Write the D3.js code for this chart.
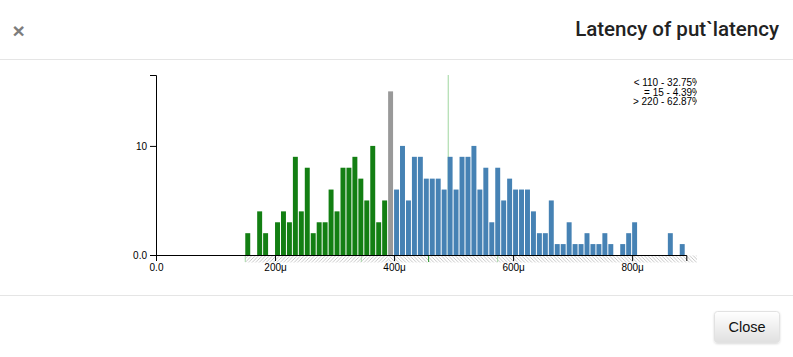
<!DOCTYPE html>
<html>
<head>
<meta charset="utf-8">
<script src="https://cdn.jsdelivr.net/npm/d3@7"></script>
<style>
  html, body { margin: 0; padding: 0; background: #fff; }
  svg { display: block; font-family: "Liberation Sans", Arial, Helvetica, sans-serif; }
</style>
</head>
<body>
<svg id="root" width="793" height="357"></svg>
<script>
// ---- data ----
const title = "Latency of put`latency";
const binWidth = 10;
const lessBins   = [150,160,170,180,190,200,210,220,230,240,250,260,270,280,290,300,310,320,330,340,350,360,370,380];
const lessCounts = [  2,  0,  4,  2,  0,  3,  4,  3,  9,  4,  8,  2,  3,  3,  6,  4,  8,  8,  9,  7,  5, 10,  3,  5];
const equalBins   = [390];
const equalCounts = [15];
const greaterBins   = [400,410,420,430,440,450,460,470,480,490,500,510,520,530,540,550,560,570,580,590,600,610,620,630,640,650,660,670,680,690,700,710,720,730,740,750,760,770,780,790,800,860,880];
const greaterCounts = [  6, 10,  5,  9,  9,  7,  7,  7,  6,  9,  6,  9,  9, 10,  6,  8,  3,  8,  5,  7,  6,  6,  6,  4,  2,  2,  5,  1,  1,  3,  1,  1,  2,  1,  1,  2,  1,  0,  1,  2,  3,  2,  1];
const xTicks = [0, 200, 400, 600, 800];
const xTickLabels = ["0.0", "200μ", "400μ", "600μ", "800μ"];
const yTicks = [0, 10];
const yTickLabels = ["0.0", "10"];
const xMax = 891;
const yMax = 16.5;
const meanValue = 491;
const markerValues = [150, 345, 458, 574];
const markerKinds  = ["light", "light", "dark", "light"];
const hatchLeft  = [150, 390];
const hatchRight = [390, 930];
const legendLines = ["< 110 - 32.75%", "= 15 - 4.39%", "> 220 - 62.87%"];
const buttonLabel = "Close";

// ---- drawing ----
const W = 793, H = 357;
const svg = d3.select("#root");
const defs = svg.append("defs");

// header
svg.append("text").attr("x", 18.7).attr("y", 37.5).attr("text-anchor", "middle")
  .attr("font-size", 21).attr("font-weight", "bold").attr("fill", "#7d7d7d").text("×");
const titleText = svg.append("text").attr("x", 779).attr("y", 36).attr("text-anchor", "end")
  .attr("font-family", "Roboto, 'Liberation Sans', Arial, sans-serif")
  .attr("font-size", 20).attr("font-weight", 500).attr("fill", "#222").text(title);
// fit title width to the reference span (575 → 779)
const tw = titleText.node().getComputedTextLength();
if (tw > 0) titleText.attr("font-size", 20 * 204 / tw);
svg.append("line").attr("x1", 0).attr("x2", W).attr("y1", 59.5).attr("y2", 59.5).attr("stroke", "#e5e5e5");
svg.append("line").attr("x1", 0).attr("x2", W).attr("y1", 295.5).attr("y2", 295.5).attr("stroke", "#e5e5e5");

// button
const grad = defs.append("linearGradient").attr("id", "btnGrad").attr("x1", 0).attr("x2", 0).attr("y1", 0).attr("y2", 1);
grad.append("stop").attr("offset", "0%").attr("stop-color", "#ffffff");
grad.append("stop").attr("offset", "100%").attr("stop-color", "#e0e0e0");
const shadow = defs.append("filter").attr("id", "btnShadow").attr("x", "-10%").attr("y", "-10%").attr("width", "120%").attr("height", "130%");
shadow.append("feDropShadow").attr("dx", 0).attr("dy", 1).attr("stdDeviation", 0.8).attr("flood-color", "#000").attr("flood-opacity", 0.15);
svg.append("rect").attr("x", 714.5).attr("y", 311.5).attr("width", 65).attr("height", 31).attr("rx", 3)
  .attr("fill", "url(#btnGrad)").attr("stroke", "#e2e2e2").attr("filter", "url(#btnShadow)");
svg.append("text").attr("x", 747).attr("y", 332).attr("text-anchor", "middle")
  .attr("font-size", 14.5).attr("fill", "#111").text(buttonLabel);

// chart
const x = d3.scaleLinear().domain([0, xMax]).range([156, 686.3]);
const y = d3.scaleLinear().domain([0, yMax]).range([255, 75]);

defs.append("clipPath").attr("id", "chartClip").append("rect")
  .attr("x", 0).attr("y", 0).attr("width", 697).attr("height", H);
const g = svg.append("g").attr("clip-path", "url(#chartClip)");

// hatch patterns
function hatch(id, dir) {
  const p = defs.append("pattern").attr("id", id).attr("patternUnits", "userSpaceOnUse")
    .attr("width", 3.5).attr("height", 3.5);
  p.append("path").attr("d", dir > 0 ? "M-1,4.5 L4.5,-1" : "M-1,-1 L4.5,4.5")
    .attr("stroke", "#b8b8b8").attr("stroke-width", 0.8);
}
hatch("hatchL", 1);
hatch("hatchR", -1);
g.append("rect").attr("x", x(hatchLeft[0])).attr("width", x(hatchLeft[1]) - x(hatchLeft[0]))
  .attr("y", 255.5).attr("height", 7).attr("fill", "url(#hatchL)");
g.append("rect").attr("x", x(hatchRight[0])).attr("width", x(hatchRight[1]) - x(hatchRight[0]))
  .attr("y", 255.5).attr("height", 7).attr("fill", "url(#hatchR)");

// mean line
g.append("line").attr("x1", x(meanValue)).attr("x2", x(meanValue)).attr("y1", y(yMax)).attr("y2", y(0))
  .attr("stroke", "#9fd69f").attr("stroke-width", 1);

// bars
function drawBars(bins, counts, color) {
  const data = bins.map((b, i) => ({ b, c: counts[i] })).filter(d => d.c > 0);
  g.append("g").selectAll("rect").data(data).join("rect")
    .attr("x", d => x(d.b))
    .attr("width", d => x(d.b + binWidth) - x(d.b) - 1)
    .attr("y", d => y(d.c))
    .attr("height", d => y(0) - y(d.c))
    .attr("fill", color);
}
drawBars(lessBins, lessCounts, "#137f13");
drawBars(equalBins, equalCounts, "#999999");
drawBars(greaterBins, greaterCounts, "#4682b4");

// markers below axis
g.append("g").selectAll("line").data(markerValues).join("line")
  .attr("x1", d => x(d)).attr("x2", d => x(d)).attr("y1", 255).attr("y2", 262)
  .attr("stroke", (d, i) => markerKinds[i] === "dark" ? "#2e9a2e" : "#a6d9a6");

// axes
const xAxis = d3.axisBottom(x).tickValues(xTicks).tickFormat((d, i) => xTickLabels[i]);
const yAxis = d3.axisLeft(y).tickValues(yTicks).tickFormat((d, i) => yTickLabels[i]);
const xg = g.append("g").attr("transform", "translate(0,255)").call(xAxis);
const yg = g.append("g").attr("transform", "translate(156,0)").call(yAxis);
[xg, yg].forEach(a => {
  a.attr("font-family", null).attr("font-size", 10);
  a.selectAll("path, line").attr("stroke", "#000");
  a.selectAll("text").attr("fill", "#000");
});

// legend
g.append("g").selectAll("text").data(legendLines).join("text")
  .attr("x", 701).attr("y", (d, i) => 86 + i * 9.6).attr("text-anchor", "end")
  .attr("font-size", 10).attr("fill", "#000").text(d => d);
</script>
</body>
</html>
